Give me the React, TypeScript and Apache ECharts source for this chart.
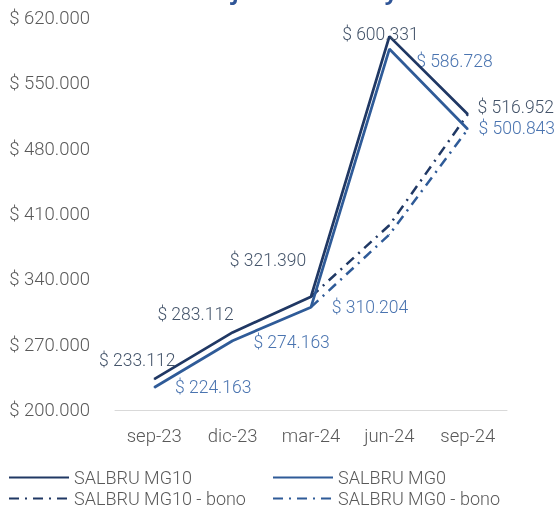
import React, { useEffect, useRef } from "react";
import * as echarts from "echarts";

const categories = ["sep-23", "dic-23", "mar-24", "jun-24", "sep-24"];
const mg10 = [233112, 283112, 321390, 600331, 516952];
const mg0 = [224163, 274163, 310204, 586728, 500843];
const mg10Bono = [null, null, 321390, 398000, 516952];
const mg0Bono = [null, null, 310204, 388000, 500843];
const seriesNames = ["SALBRU MG10", "SALBRU MG0", "SALBRU MG10 - bono", "SALBRU MG0 - bono"];
const titleText = "Financiamiento Jurisdiccional y Nacional";

// label offsets (layout only)
const mg10Offsets = [[-17, -19], [-37, -18], [-43, -37], [-9, -2], [48, -7]];
const mg0Offsets = [[59, 0], [59, 1], [59, 0], [65, 12], [49, -1]];

const fmt = (n: number) =>
  Math.round(n).toString().replace(/\B(?=(\d{3})+(?!\d))/g, ".");

const FONT = "Roboto";
const C_MG10 = "#203864";
const C_MG0 = "#2f5b98";
const C_LBL10 = "#44546a";
const C_LBL0 = "#4a74b0";
const C_AXIS = "#595959";
const AXIS_FS = 18.5;
const LEGEND_FS = 18;
const LABEL_FS = 17.5;

export default function App() {
  const ref = useRef<HTMLDivElement>(null);
  useEffect(() => {
    if (!ref.current) return;
    const chart = echarts.init(ref.current, undefined, { renderer: "svg" });
    const withLabels = (vals: number[], offs: number[][], color: string) =>
      vals.map((v, i) => ({
        value: v,
        label: {
          show: true,
          position: "inside",
          offset: offs[i],
          color,
          fontSize: LABEL_FS,
          fontFamily: FONT,
          fontWeight: 300,
          formatter: (p: any) => "$ " + fmt(p.value),
        },
      }));
    const legendBase = {
      orient: "horizontal",
      padding: 0,
      itemWidth: 60,
      itemHeight: 14,
      itemGap: 0,
      itemStyle: { opacity: 0 },
      textStyle: {
        color: C_AXIS,
        fontSize: LEGEND_FS,
        lineHeight: 21,
        fontFamily: FONT,
        fontWeight: 300,
      },
    };
    chart.setOption({
      animation: false,
      graphic: [
        {
          type: "text",
          left: "center",
          top: -20,
          style: {
            text: titleText,
            font: "bold 22px 'Open Sans'",
            fill: "#2f5597",
          },
        },
      ],
      legend: [
        { ...legendBase, data: [seriesNames[0]], left: 8, top: 467 },
        { ...legendBase, data: [seriesNames[1]], left: 272, top: 467 },
        { ...legendBase, data: [seriesNames[2]], left: 8, top: 488 },
        { ...legendBase, data: [seriesNames[3]], left: 272, top: 488 },
      ],
      grid: { left: 115, right: 48, top: 18, bottom: 100 },
      xAxis: {
        type: "category",
        data: categories,
        boundaryGap: true,
        axisLine: { lineStyle: { color: "#d9d9d9", width: 1 } },
        axisTick: { show: false },
        axisLabel: { color: C_AXIS, fontSize: AXIS_FS, fontFamily: FONT, fontWeight: 300, margin: 16 },
      },
      yAxis: {
        type: "value",
        min: 200000,
        max: 620000,
        interval: 70000,
        splitLine: { show: false },
        axisLine: { show: false },
        axisTick: { show: false },
        axisLabel: {
          color: C_AXIS,
          fontSize: AXIS_FS,
          fontFamily: FONT,
          fontWeight: 300,
          margin: 25,
          formatter: (v: number) => "$ " + fmt(v),
        },
      },
      series: [
        {
          name: seriesNames[0],
          type: "line",
          data: withLabels(mg10, mg10Offsets, C_LBL10),
          symbol: "circle",
          symbolSize: 1,
          itemStyle: { color: C_MG10 },
          lineStyle: { color: C_MG10, width: 2.75 },
          z: 4,
        },
        {
          name: seriesNames[1],
          type: "line",
          data: withLabels(mg0, mg0Offsets, C_LBL0),
          symbol: "circle",
          symbolSize: 1,
          itemStyle: { color: C_MG0 },
          lineStyle: { color: C_MG0, width: 2.75 },
          z: 3,
        },
        {
          name: seriesNames[2],
          type: "line",
          data: mg10Bono,
          symbol: "circle",
          symbolSize: 1,
          itemStyle: { color: C_MG10 },
          lineStyle: { color: C_MG10, width: 2.5, type: [10, 6, 2, 6] },
          z: 2,
        },
        {
          name: seriesNames[3],
          type: "line",
          data: mg0Bono,
          symbol: "circle",
          symbolSize: 1,
          itemStyle: { color: C_MG0 },
          lineStyle: { color: C_MG0, width: 2.5, type: [10, 6, 2, 6] },
          z: 1,
        },
      ],
    });
    return () => chart.dispose();
  }, []);
  return (
    <div
      ref={ref}
      style={{ position: "fixed", left: 0, top: 0, width: 555, height: 510 }}
    />
  );
}
